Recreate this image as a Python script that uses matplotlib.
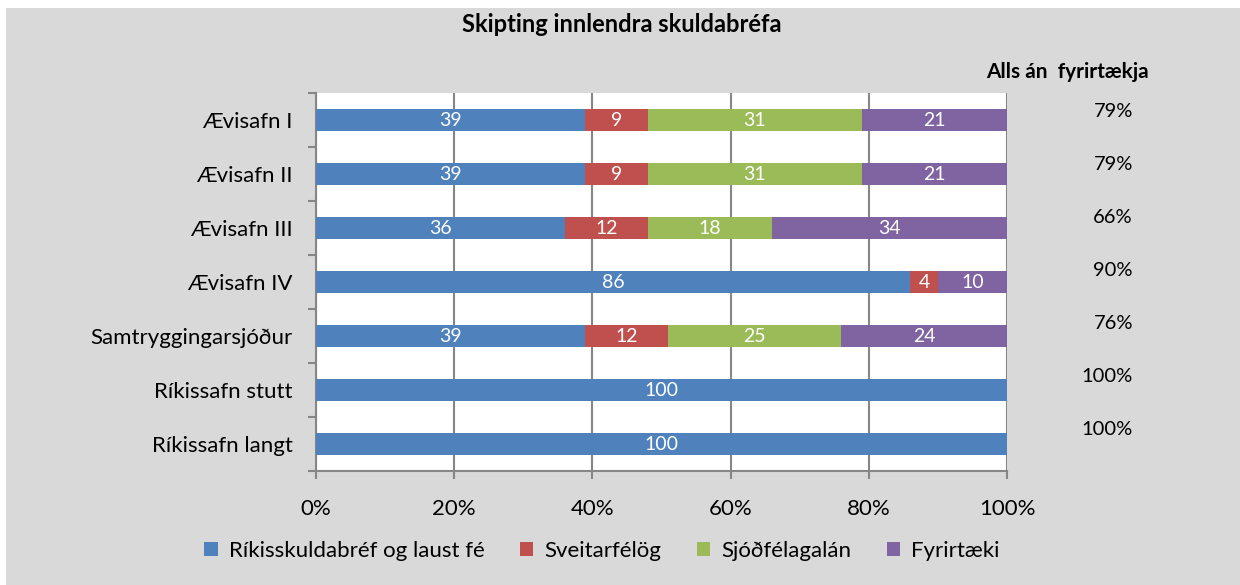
import matplotlib.pyplot as plt
import matplotlib.patches as mpatches
import numpy as np

plt.rcParams['font.family'] = ['Lato', 'DejaVu Sans']

# --- data ---
funds = ['Ævisafn I', 'Ævisafn II', 'Ævisafn III', 'Ævisafn IV',
         'Samtryggingarsjóður', 'Ríkissafn stutt', 'Ríkissafn langt']
series_names = ['Ríkisskuldabréf og laust fé', 'Sveitarfélög',
                'Sjóðfélagalán', 'Fyrirtæki']
rikis = [39, 39, 36, 86, 39, 100, 100]
sveitar = [9, 9, 12, 4, 12, 0, 0]
sjodfelaga = [31, 31, 18, 0, 25, 0, 0]
fyrirtaeki = [21, 21, 34, 10, 24, 0, 0]
alls_an = ['79%', '79%', '66%', '90%', '76%', '100%', '100%']
xticks = [0, 20, 40, 60, 80, 100]

colors = ['#4f81bd', '#c0504d', '#9bbb59', '#8064a2']
grid_c = '#868686'

W, H = 1240, 585
fig = plt.figure(figsize=(W / 100, H / 100), dpi=100, facecolor='white')
# grey chart area
fig.patches.append(mpatches.Rectangle((6 / W, 0), 1 - 6 / W, 1 - 8 / H,
                                      transform=fig.transFigure,
                                      facecolor='#d9d9d9', edgecolor='none',
                                      zorder=-10))

ax = fig.add_axes([316 / W, 1 - 471 / H, (1007 - 316) / W, (471 - 93) / H])
ax.set_facecolor('white')

y = np.arange(len(funds))
left = np.zeros(len(funds))
for vals, c, name in zip([rikis, sveitar, sjodfelaga, fyrirtaeki], colors, series_names):
    vals = np.array(vals, dtype=float)
    ax.barh(y, vals, left=left, height=0.41, color=c, label=name, zorder=3)
    for yi, l, v in zip(y, left, vals):
        if v > 0:
            ax.text(l + v / 2, yi, f'{v:.0f}', ha='center', va='center',
                    color='white', fontsize=14, zorder=4)
    left += vals

ax.set_xlim(0, 100)
ax.set_ylim(len(funds) - 0.5, -0.5)
ax.set_xticks(xticks)
ax.set_xticklabels([f'{t}%' for t in xticks], fontsize=16)
ax.set_yticks(y)
ax.set_yticklabels(funds, fontsize=16)
ax.set_yticks(np.arange(len(funds) + 1) - 0.5, minor=True)
ax.tick_params(axis='y', which='major', length=0, pad=17)
ax.tick_params(axis='y', which='minor', length=6, color=grid_c, width=1.5)
ax.tick_params(axis='x', which='major', length=6, color=grid_c, width=1.5, pad=14)
ax.xaxis.grid(True, color=grid_c, linewidth=1.5, zorder=1)
ax.set_axisbelow(True)
for s in ['top', 'right']:
    ax.spines[s].set_visible(False)
for s in ['left', 'bottom']:
    ax.spines[s].set_color(grid_c)
    ax.spines[s].set_linewidth(1.5)

# right-hand column
ax2 = fig.add_axes([900 / W, 1 - 455.5 / H, 240 / W, (455.5 - 84.5) / H])
ax2.set_xlim(0, 1)
ax2.set_ylim(len(funds) - 0.5, -0.5)
ax2.axis('off')
for i, t in enumerate(alls_an):
    ax2.text((1133 - 900) / 240, i, t, ha='right', va='center', fontsize=14.5)
fig.text(1067 / W, 1 - 72 / H, 'Alls án  fyrirtækja', ha='center', va='center',
         fontsize=15, fontweight='bold')

fig.text(622 / W, 1 - 25 / H, 'Skipting innlendra skuldabréfa', ha='center',
         va='center', fontsize=17, fontweight='bold')

fig.legend(loc='center', bbox_to_anchor=(602 / W, 1 - 551 / H), ncol=4,
           frameon=False, fontsize=16, handlelength=0.6, handleheight=0.6,
           handletextpad=0.5, columnspacing=1.6)

fig.savefig('out.png', dpi=100, facecolor=fig.get_facecolor())
